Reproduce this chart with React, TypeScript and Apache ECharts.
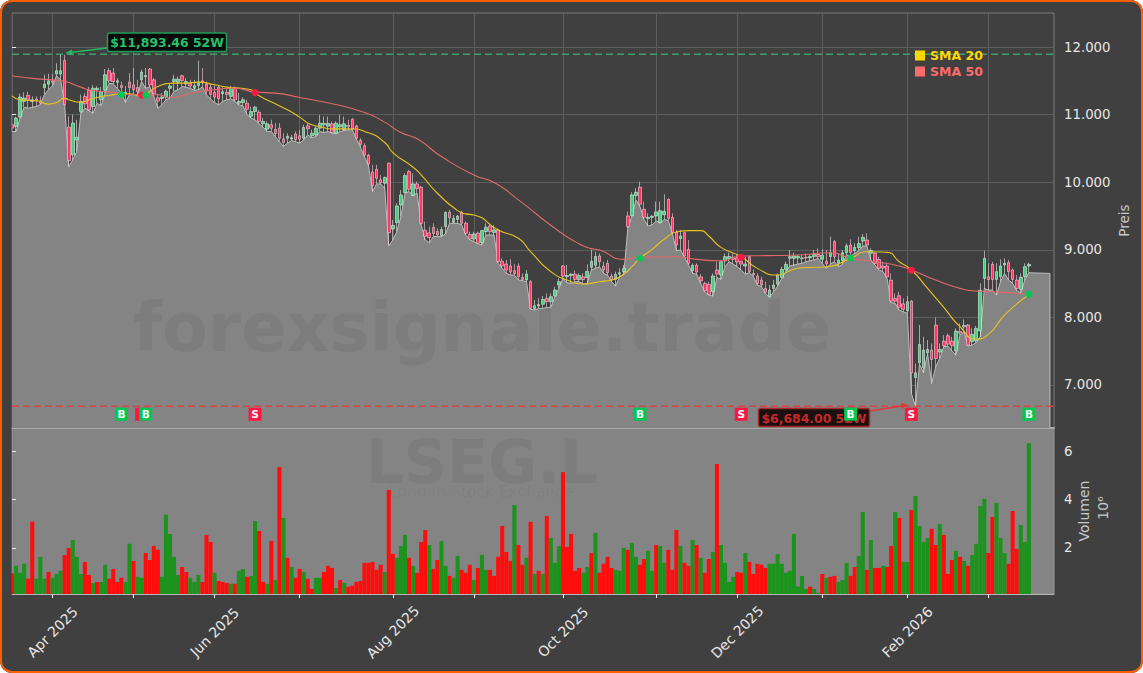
import React, { useEffect, useRef } from "react";
import * as echarts from "echarts";

// Open, close, low, high for each trading day.
const candleRows: number[][] = [
  [10850,10800,10750,11000],[10825,10950,10750,10970],[10965,11260,10950,11310],[11195,11245,11110,11330],[11285,11220,11095,11340],
  [11195,11220,11110,11270],[11230,11205,11120,11270],[11200,11170,11150,11270],[11400,11450,11295,11590],[11450,11500,11370,11605],
  [11500,11480,11425,11605],[11600,11650,11575,11760],[11600,11650,11515,11885],[11800,11146,11146,11885],[10815,10320,10230,10975],
  [10405,10875,10330,11000],[10625,10665,10455,10925],[11045,11195,11020,11295],[11270,11160,11095,11320],[11360,11070,11060,11410],
  [11120,11390,11020,11440],[11370,11390,11170,11420],[11220,11340,11130,11410],[11360,11590,11320,11675],[11650,11500,11465,11690],
  [11615,11490,11455,11690],[11480,11500,11390,11540],[11430,11400,11320,11490],[11300,11330,11180,11425],[11480,11400,11295,11615],
  [11440,11370,11295,11690],[11400,11340,11295,11515],[11515,11630,11490,11665],[11560,11580,11390,11690],[11675,11440,11410,11690],
  [11515,11310,11270,11540],[11250,11200,11095,11310],[11240,11260,11145,11320],[11260,11345,11220,11370],[11390,11425,11245,11465],
  [11490,11525,11345,11590],[11480,11525,11370,11565],[11575,11505,11415,11590],[11455,11490,11405,11540],[11465,11425,11390,11515],
  [11390,11430,11360,11515],[11430,11480,11370,11800],[11500,11470,11410,11690],[11450,11350,11295,11490],[11400,11300,11230,11455],
  [11330,11260,11180,11425],[11405,11235,11145,11440],[11310,11340,11195,11405],[11330,11300,11220,11390],[11270,11390,11235,11425],
  [11390,11220,11195,11415],[11170,11195,11145,11320],[11180,11220,11130,11255],[11170,11080,11000,11220],[10975,11045,10950,11120],
  [11045,11110,10925,11130],[11035,10900,10865,11070],[10865,10900,10815,10950],[10785,10865,10750,10900],[10850,10800,10750,10925],
  [10780,10720,10675,10875],[10800,10650,10600,10875],[10640,10590,10530,10725],[10650,10680,10580,10725],[10640,10660,10615,10700],
  [10715,10630,10600,10750],[10686,10637,10578,10775],[10652,10810,10627,10850],[10834,10790,10700,10870],[10686,10725,10657,10775],
  [10700,10800,10675,10830],[10800,10874,10750,10997],[10850,10870,10735,10972],[10830,10870,10750,10972],[10864,10735,10725,10898],
  [10725,10874,10715,10898],[10820,10850,10750,10997],[10775,10864,10765,10972],[10840,10820,10775,10923],[10933,10785,10775,10948],
  [10834,10652,10640,10850],[10620,10560,10518,10652],[10540,10400,10380,10577],[10400,10270,10240,10420],[10150,9950,9861,10256],
  [10192,10059,9975,10256],[10035,9995,9975,10108],[9985,10069,9911,10084],[10281,9254,9057,10290],[9308,9358,9145,9442],
  [9402,9649,9269,9689],[9664,9812,9491,9886],[9847,10098,9837,10133],[10158,9896,9861,10182],[9802,9975,9812,10133],
  [9975,9906,9837,10010],[9926,9392,9368,9945],[9290,9200,9145,9417],[9250,9180,9106,9343],[9330,9240,9195,9392],
  [9270,9220,9195,9318],[9210,9300,9195,9343],[9343,9555,9234,9565],[9555,9476,9392,9590],[9407,9466,9392,9516],
  [9450,9500,9392,9516],[9555,9392,9368,9580],[9392,9244,9219,9417],[9229,9160,9145,9269],[9160,9234,9121,9269],
  [9244,9096,9086,9269],[9106,9284,9071,9293],[9269,9333,9219,9392],[9348,9269,9219,9392],[9255,9295,9219,9368],
  [9293,8825,8800,9318],[8830,8760,8726,8874],[8790,8700,8652,8850],[8760,8670,8627,8860],[8690,8650,8627,8790],
  [8760,8600,8553,8800],[8590,8560,8543,8652],[8553,8642,8528,8701],[8528,8133,8118,8553],[8133,8173,8108,8257],
  [8170,8190,8133,8281],[8193,8266,8133,8316],[8281,8232,8148,8355],[8232,8306,8148,8355],[8316,8405,8306,8454],
  [8479,8528,8430,8577],[8760,8612,8577,8775],[8602,8620,8513,8775],[8620,8640,8503,8652],[8640,8560,8528,8691],
  [8560,8620,8528,8652],[8600,8560,8494,8652],[8590,8680,8503,8785],[8740,8830,8701,9000],[8770,8900,8726,8973],
  [8908,8824,8750,8947],[8760,8700,8651,8824],[8799,8661,8626,8849],[8612,8552,8528,8651],[8562,8636,8463,8676],
  [8640,8660,8602,8725],[8676,8725,8626,8774],[9500,9342,9318,9565],[9505,9812,9490,9851],[9802,9851,9737,9910],
  [9925,9673,9639,10009],[9599,9481,9451,9713],[9460,9480,9352,9540],[9480,9495,9367,9515],[9500,9560,9431,9713],
  [9402,9579,9392,9713],[9520,9570,9451,9821],[9747,9466,9431,9762],[9481,9258,9244,9540],[9258,9071,8987,9293],
  [9165,9204,8997,9293],[9253,8908,8888,9268],[9007,8799,8774,9145],[8691,8770,8651,8799],[8774,8671,8641,8799],
  [8600,8540,8503,8641],[8503,8394,8380,8528],[8488,8340,8330,8528],[8380,8612,8315,8651],[8700,8640,8592,8824],
  [8626,8824,8562,8849],[8834,8898,8750,8947],[8870,8900,8824,8957],[8890,8860,8789,8947],[8880,8820,8750,8923],
  [8830,8790,8700,8908],[8760,8790,8641,8898],[8898,8676,8661,8908],[8650,8630,8602,8710],[8612,8503,8478,8651],
  [8552,8478,8454,8602],[8429,8370,8355,8528],[8305,8404,8296,8478],[8429,8478,8380,8552],[8493,8626,8463,8651],
  [8592,8710,8577,8750],[8710,8784,8676,8824],[8875,8898,8760,8997],[8875,8908,8774,8957],[8880,8900,8789,8923],
  [8870,8880,8799,8923],[8890,8880,8824,8947],[8880,8900,8839,8932],[8900,8930,8849,8997],[8930,8900,8873,9021],
  [8860,8920,8799,9007],[8830,8790,8725,8997],[8900,8960,8789,9194],[9120,8898,8824,9145],[8799,8849,8750,8947],
  [8839,8957,8789,8997],[8957,9061,8923,9095],[9071,8962,8908,9155],[8987,9036,8947,9095],[9031,9095,8987,9194],
  [9130,9184,9056,9234],[9145,9071,9056,9244],[8950,8990,8849,9021],[8947,8799,8774,8972],[8858,8725,8700,8898],
  [8760,8730,8676,8824],[8760,8600,8577,8809],[8550,8240,8217,8651],[8280,8240,8207,8355],[8320,8150,8108,8380],
  [8200,8120,8083,8281],[8098,8232,8059,8316],[8241,7180,6874,8256],[7110,7180,6684,7318],[7328,7600,7308,7886],
  [7254,7516,7180,7713],[7476,7525,7466,7664],[7516,7377,7022,7614],[7886,7392,7269,7999],[7486,7525,7392,7614],
  [7649,7580,7565,7738],[7728,7604,7575,7762],[7649,7580,7506,7713],[7506,7797,7441,7837],[7790,7770,7738,7911],
  [7860,7880,7787,7970],[7886,7590,7575,7901],[7640,7750,7590,7837],[7654,7837,7624,7871],[7800,8400,7713,8503],
  [8577,8873,8429,8987],[8600,8560,8404,8800],[8785,8562,8404,8824],[8562,8676,8330,8800],[8602,8760,8528,8859],
  [8775,8800,8651,8873],[8809,8676,8552,8849],[8701,8562,8503,8725],[8552,8429,8394,8627],[8414,8592,8365,8651],
  [8602,8750,8552,8800],[8760,8785,8661,8809],
];

// Volume in millions per trading day; a negative sign marks a red bar.
const volumes: number[] = [
  -0.95,1.26,0.97,1.34,-0.72,-3.08,0.72,1.63,0.72,-1.0,0.76,0.92,1.05,-1.71,-2.0,2.33,1.63,0.92,-1.42,-0.88,
  0.55,-0.59,0.59,1.3,-0.72,-1.13,-0.59,-0.76,0.59,2.17,-1.46,0.8,0.76,-1.79,-1.5,-2.08,-1.92,0.8,3.37,2.58,
  1.63,0.88,-1.21,-1.0,0.76,0.59,0.88,-0.59,-2.54,-2.25,0.97,-0.63,-0.59,-0.55,0.51,-0.51,1.05,1.13,-0.8,0.84,
  3.12,-2.7,-0.59,0.51,-2.29,0.67,-5.35,3.24,-1.59,1.21,-0.76,-1.13,1.0,-0.72,-0.3,0.76,0.76,-1.0,-1.26,-1.17,
  0.34,-0.67,0.55,-0.39,-0.43,-0.59,-0.63,-1.38,-1.38,-1.42,-1.09,-1.3,1.0,-4.4,-1.75,1.59,2.08,2.54,-1.59,1.26,
  -0.97,-2.25,-2.74,2.12,-1.13,-1.5,2.29,1.26,-0.84,0.76,1.67,-1.09,-0.97,-1.3,0.67,-1.17,1.71,1.09,-1.09,-0.84,
  -1.63,-2.91,-1.83,-1.46,3.78,-2.12,-1.3,1.59,-3.08,0.92,-1.05,0.92,-3.32,2.41,1.38,2.08,-5.14,-2.04,-2.58,-1.05,
  -1.17,0.97,1.21,-1.79,2.62,-0.97,-1.34,-1.63,-1.17,1.09,1.05,2.0,-1.92,2.21,1.63,-1.3,-1.54,1.88,1.05,-2.12,
  2.08,1.38,-1.92,-1.09,-2.74,2.08,-1.38,-1.26,2.33,-2.12,1.59,-0.97,-1.54,1.83,-5.48,2.12,1.38,0.59,0.8,-1.0,
  -0.97,1.79,-1.42,-0.92,-1.34,-1.3,-1.17,1.34,1.34,1.75,1.34,0.97,1.05,2.58,0.4,0.84,0.3,-0.39,0.3,0.14,
  -0.92,0.76,-0.8,-0.84,0.59,0.67,1.38,-0.84,-1.21,1.67,3.49,-1.09,2.33,-1.17,-1.17,1.26,-1.21,-2.08,3.49,-3.24,
  1.42,1.42,-3.57,4.15,2.91,2.25,2.41,-2.79,-2.12,2.99,-2.54,-0.92,-1.5,1.88,-1.63,1.46,-1.26,1.71,2.17,3.74,
  4.03,-1.79,-3.28,3.86,2.41,1.79,-1.34,-3.53,-1.96,2.95,2.25,6.34,
];

// Moving averages as [trading-day index, price] pairs.
const sma20Points: number[][] = [
  [0,11279],[2,11220],[4,11210],[6,11205],[9,11156],[11,11180],[13,11245],[14,11220],[17,11185],[19,11220],[22,11269],[24,11284],
  [27,11309],[29,11309],[32,11269],[33,11304],[34,11343],[36,11417],[40,11467],[43,11467],[46,11481],[50,11442],[53,11407],[56,11393],
  [59,11368],[61,11279],[65,11160],[68,11072],[71,10963],[74,10849],[76,10824],[79,10790],[83,10790],[88,10731],[92,10587],[94,10439],
  [99,10222],[101,10108],[105,9837],[110,9580],[112,9531],[114,9516],[120,9293],[125,9170],[128,8973],[133,8676],[137,8553],[141,8494],
  [145,8528],[148,8552],[151,8641],[153,8750],[155,8873],[158,9007],[161,9155],[164,9263],[167,9283],[170,9283],[172,9204],[175,9036],
  [180,8898],[184,8725],[189,8626],[192,8691],[195,8735],[201,8750],[207,8873],[211,8972],[216,8962],[219,8824],[222,8701],[226,8429],
  [230,8148],[234,7861],[238,7679],[241,7748],[245,8034],[251,8335],
];
const sma50Points: number[][] = [
  [0,11575],[5,11536],[12,11501],[17,11407],[19,11368],[24,11333],[32,11294],[36,11294],[39,11254],[45,11328],[50,11368],[55,11393],
  [60,11333],[65,11319],[71,11254],[79,11160],[87,11032],[92,10889],[96,10735],[100,10642],[106,10380],[114,10108],[119,9995],[125,9738],
  [134,9318],[139,9121],[143,9017],[145,8997],[151,8858],[155,8893],[164,8898],[169,8858],[175,8839],[180,8908],[186,8913],[194,8923],
  [202,8957],[207,8873],[213,8824],[219,8760],[222,8701],[228,8553],[234,8429],[238,8390],[242,8380],[250,8345],[251,8335],
];

// Crossover signals: trading-day index, price at the crossing, and kind.
const signalIdx: number[] = [27, 32, 33, 60, 155, 180, 207, 222, 251];
const signalPrice: number[] = [11298, 11289, 11289, 11327, 8874, 8889, 8878, 8696, 8341];
const signalKind: string[] = ["B", "S", "B", "S", "B", "S", "B", "S", "B"];
const signalFlagText: string[] = ["B", "", "B", "S", "B", "S", "B", "S", "B"];
const signalLabelPrice = 6567;

const high52w = 11893.46;
const low52w = 6684;

const priceTicks: number[] = [7000, 8000, 9000, 10000, 11000, 12000];
const volumeTicks: number[] = [2, 4, 6];
const monthTickIdx: number[] = [10, 30, 50, 71, 94, 114, 136, 159, 179, 200, 221, 241];
const monthLabelIdx: number[] = [10, 50, 94, 136, 179, 221];
const monthLabels: string[] = ["Apr 2025", "Jun 2025", "Aug 2025", "Oct 2025", "Dec 2025", "Feb 2026"];

const FONT = "DejaVu Sans";
const LAST_AREA_X = 256.2;
const X_MAX = 257.2;
const UP = "#45d07f";
const DOWN = "#ff3566";
const BULL = "#00c853";
const BEAR = "#ff1744";
const GRID = "#5e5e5e";
const PANEL = "#848484";
const PAGE = "#404040";
const MARK_ALPHA = "rgba(0,0,0,0.05)";

const fmtPrice = (v: number) => String(v).replace(/\B(?=(\d{3})+(?!\d))/g, ".");

function buildOption() {
  const lows = candleRows.map((r, i) => [i, r[2]]);
  const area = [...lows, [LAST_AREA_X, 8650], [LAST_AREA_X, 6363]];
  const candles = candleRows.map((r, i) => [i, r[0], r[1], r[2], r[3]]);
  const bars = volumes.map((v, i) => ({
    value: [i, Math.abs(v)],
    itemStyle: { color: v < 0 ? "#ff0d0d" : "#1c931c" },
  }));
  const dots = signalIdx.map((x, i) => ({
    value: [x, signalPrice[i]],
    itemStyle: { color: signalKind[i] === "B" ? BULL : BEAR, opacity: 1 },
  }));
  const flags = signalIdx.map((x, i) => ({
    value: [x, signalLabelPrice],
    itemStyle: { color: signalKind[i] === "B" ? BULL : BEAR, opacity: 1 },
    label: { formatter: signalFlagText[i] },
  }));
  const xBase = {
    type: "value",
    min: 0,
    max: X_MAX,
    position: "bottom",
  };
  return {
    animation: false,
    backgroundColor: "transparent",
    textStyle: { fontFamily: FONT },
    grid: [
      { left: 12, top: 13, width: 1042, height: 415, show: true, backgroundColor: PAGE, borderColor: "#7d7d7d", borderWidth: 1 },
      { left: 12, top: 428, width: 1042, height: 166, show: true, backgroundColor: PANEL, borderColor: "#9a9a9a", borderWidth: 1 },
    ],
    xAxis: [
      {
        ...xBase,
        gridIndex: 0,
        axisLine: { show: true, onZero: false, lineStyle: { color: "#a9a9a9", width: 2 } },
        axisTick: { show: false, customValues: monthTickIdx },
        axisLabel: { show: false },
        splitLine: { show: true, lineStyle: { color: GRID, width: 1 } },
      },
      {
        ...xBase,
        gridIndex: 1,
        axisLine: { show: true, onZero: false, lineStyle: { color: "#b4b4b4", width: 1 } },
        axisTick: { show: true, length: 4, customValues: monthTickIdx, lineStyle: { color: "#eeeeee", width: 1 } },
        axisLabel: {
          show: true,
          customValues: monthLabelIdx,
          rotate: 45,
          align: "center",
          verticalAlign: "middle",
          margin: 38,
          fontSize: 14,
          color: "#e6e6e6",
          fontFamily: FONT,
          formatter: (v: number) => monthLabels[monthLabelIdx.indexOf(Math.round(v))] ?? "",
        },
        splitLine: { show: false },
      },
    ],
    yAxis: [
      {
        type: "value",
        gridIndex: 0,
        position: "right",
        min: 6363,
        max: 12504,
        name: "Preis",
        nameLocation: "middle",
        nameRotate: 90,
        nameGap: 63,
        nameMoveOverlap: false,
        nameTextStyle: { color: "#c8c8c8", fontSize: 13.5, fontFamily: FONT },
        axisLine: { show: false },
        axisTick: { show: true, length: 4, customValues: priceTicks, lineStyle: { color: "#eeeeee" } },
        axisLabel: {
          customValues: priceTicks,
          margin: 10,
          fontSize: 13.3,
          color: "#e6e6e6",
          fontFamily: FONT,
          formatter: (v: number) => fmtPrice(v),
        },
        splitLine: { show: true, lineStyle: { color: GRID, width: 1 } },
      },
      {
        type: "value",
        gridIndex: 1,
        position: "right",
        min: 0.09,
        max: 6.97,
        name: "Volumen",
        nameLocation: "middle",
        nameRotate: 90,
        nameGap: 23,
        nameMoveOverlap: false,
        nameTextStyle: { color: "#c8c8c8", fontSize: 14, fontFamily: FONT },
        axisLine: { show: false },
        axisTick: { show: true, length: 4, customValues: volumeTicks, lineStyle: { color: "#eeeeee" } },
        axisLabel: { customValues: volumeTicks, margin: 10, fontSize: 13.3, color: "#e6e6e6", fontFamily: FONT },
        splitLine: { show: false },
      },
    ],
    legend: {
      orient: "vertical",
      left: 910,
      top: 44,
      itemWidth: 10,
      itemHeight: 10,
      itemGap: 3,
      selectedMode: false,
      textStyle: { fontFamily: FONT, fontWeight: "bold", fontSize: 12.5 },
      data: [
        { name: "SMA 20", icon: "rect", itemStyle: { color: "#FFD700" }, textStyle: { color: "#FFD700" } },
        { name: "SMA 50", icon: "rect", itemStyle: { color: "#FF6B6B" }, textStyle: { color: "#FF6B6B" } },
      ],
    },
    series: [
      {
        name: "Low",
        type: "line",
        xAxisIndex: 0,
        yAxisIndex: 0,
        z: 1,
        data: area,
        symbol: "none",
        lineStyle: { color: "#bdbdbd", width: 1 },
        areaStyle: { color: PANEL, opacity: 1, origin: "start" },
      },
      {
        name: "Candles",
        type: "candlestick",
        xAxisIndex: 0,
        yAxisIndex: 0,
        z: 3,
        clip: true,
        barWidth: 3.1,
        encode: { x: 0, y: [1, 2, 3, 4] },
        data: candles,
        itemStyle: {
          color: UP,
          color0: DOWN,
          borderColor: "rgba(222,232,226,0.78)",
          borderColor0: "rgba(240,200,212,0.8)",
          borderWidth: 0.8,
        },
      },
      {
        name: "52W High",
        type: "line",
        xAxisIndex: 0,
        yAxisIndex: 0,
        z: 3,
        symbol: "none",
        data: [[0, high52w], [X_MAX, high52w]],
        lineStyle: { color: "#3f9e66", width: 1.5, type: [7, 4] },
      },
      {
        name: "52W Low",
        type: "line",
        xAxisIndex: 0,
        yAxisIndex: 0,
        z: 3,
        symbol: "none",
        data: [[0, low52w], [X_MAX, low52w]],
        lineStyle: { color: "#d84545", width: 1.5, type: [7, 4] },
      },
      {
        name: "SMA 20",
        type: "line",
        xAxisIndex: 0,
        yAxisIndex: 0,
        z: 4,
        symbol: "none",
        smooth: 0.6,
        data: sma20Points,
        itemStyle: { color: "#FFD700" },
        lineStyle: { color: "#e8c420", width: 1.1 },
      },
      {
        name: "SMA 50",
        type: "line",
        xAxisIndex: 0,
        yAxisIndex: 0,
        z: 4,
        symbol: "none",
        smooth: 0.6,
        data: sma50Points,
        itemStyle: { color: "#FF6B6B" },
        lineStyle: { color: "#e06a6a", width: 1.1 },
      },
      {
        name: "Cross",
        type: "scatter",
        xAxisIndex: 0,
        yAxisIndex: 0,
        z: 6,
        symbol: "circle",
        symbolSize: 7,
        data: dots,
      },
      {
        name: "Flags",
        type: "scatter",
        xAxisIndex: 0,
        yAxisIndex: 0,
        z: 8,
        symbol: "rect",
        symbolSize: 13,
        data: flags,
        label: { show: true, position: "inside", color: "#ffffff", fontSize: 10.5, fontWeight: "bold", fontFamily: FONT },
      },
      {
        name: "Volume",
        type: "bar",
        xAxisIndex: 1,
        yAxisIndex: 1,
        z: 3,
        clip: true,
        barWidth: 4.05,
        data: bars,
      },
    ],
    graphic: [
      // Page-coloured margin left of the plots, so the half of the first day's marks that falls outside is not shown.
      { type: "rect", z: 20, shape: { x: 0, y: 13, width: 11.5, height: 582 }, style: { fill: PAGE } },
      { type: "text", z: 2, x: 482, y: 328, style: { text: "forexsignale.trade", fill: MARK_ALPHA, fontFamily: FONT, fontWeight: "bold", fontSize: 67, align: "center", verticalAlign: "middle" } },
      { type: "text", z: 2, x: 482, y: 462, style: { text: "LSEG.L", fill: MARK_ALPHA, fontFamily: FONT, fontWeight: "bold", fontSize: 60, align: "center", verticalAlign: "middle" } },
      { type: "text", z: 2, x: 482, y: 492, style: { text: "London Stock Exchange", fill: "rgba(0,0,0,0.04)", fontFamily: FONT, fontSize: 15.5, align: "center", verticalAlign: "middle" } },
      { type: "text", z: 5, x: 1103, y: 508, rotation: Math.PI / 2, style: { text: "10⁶", fill: "#c8c8c8", fontFamily: FONT, fontSize: 14, align: "center", verticalAlign: "middle" } },

      { type: "line", z: 6, shape: { x1: 107, y1: 48, x2: 70, y2: 52.5 }, style: { stroke: "#22b866", lineWidth: 1.5 } },
      { type: "polygon", z: 6, shape: { points: [[65, 53], [72, 49.5], [72.5, 55.5]] }, style: { fill: "#22b866" } },
      { type: "rect", z: 7, shape: { x: 107.5, y: 33, width: 119, height: 18.5, r: 2 }, style: { fill: "#0a0a0a", stroke: "#1f9d55", lineWidth: 1.5 } },
      { type: "text", z: 7, x: 167, y: 42.5, style: { text: "$11,893.46 52W", fill: "#25c26b", fontFamily: FONT, fontWeight: "bold", fontSize: 12.4, align: "center", verticalAlign: "middle" } },

      { type: "line", z: 6, shape: { x1: 870, y1: 411, x2: 902, y2: 406 }, style: { stroke: "#e03a3a", lineWidth: 1.5 } },
      { type: "polygon", z: 6, shape: { points: [[908, 404.5], [901, 403], [901.5, 409]] }, style: { fill: "#e03a3a" } },
      { type: "rect", z: 7, shape: { x: 758.5, y: 408.5, width: 111, height: 18, r: 2 }, style: { fill: "#1a1010", stroke: "#a82828", lineWidth: 1.5 } },
      { type: "text", z: 7, x: 814, y: 418, style: { text: "$6,684.00 52W", fill: "#c62828", fontFamily: FONT, fontWeight: "bold", fontSize: 12.4, align: "center", verticalAlign: "middle" } },
    ],
  };
}

export default function App() {
  const ref = useRef<HTMLDivElement>(null);
  useEffect(() => {
    const chart = echarts.init(ref.current!, undefined, { renderer: "svg" });
    chart.setOption(buildOption() as any);
    return () => chart.dispose();
  }, []);
  return (
    <div style={{ position: "absolute", left: 0, top: 0, width: 1143, height: 673, overflow: "hidden", borderRadius: 12, background: PAGE }}>
      <div ref={ref} style={{ position: "absolute", left: 0, top: 0, width: 1143, height: 673 }} />
      <div style={{ position: "absolute", inset: 0, boxSizing: "border-box", border: "2.5px solid #ff5f00", borderRadius: 12, pointerEvents: "none" }} />
    </div>
  );
}
